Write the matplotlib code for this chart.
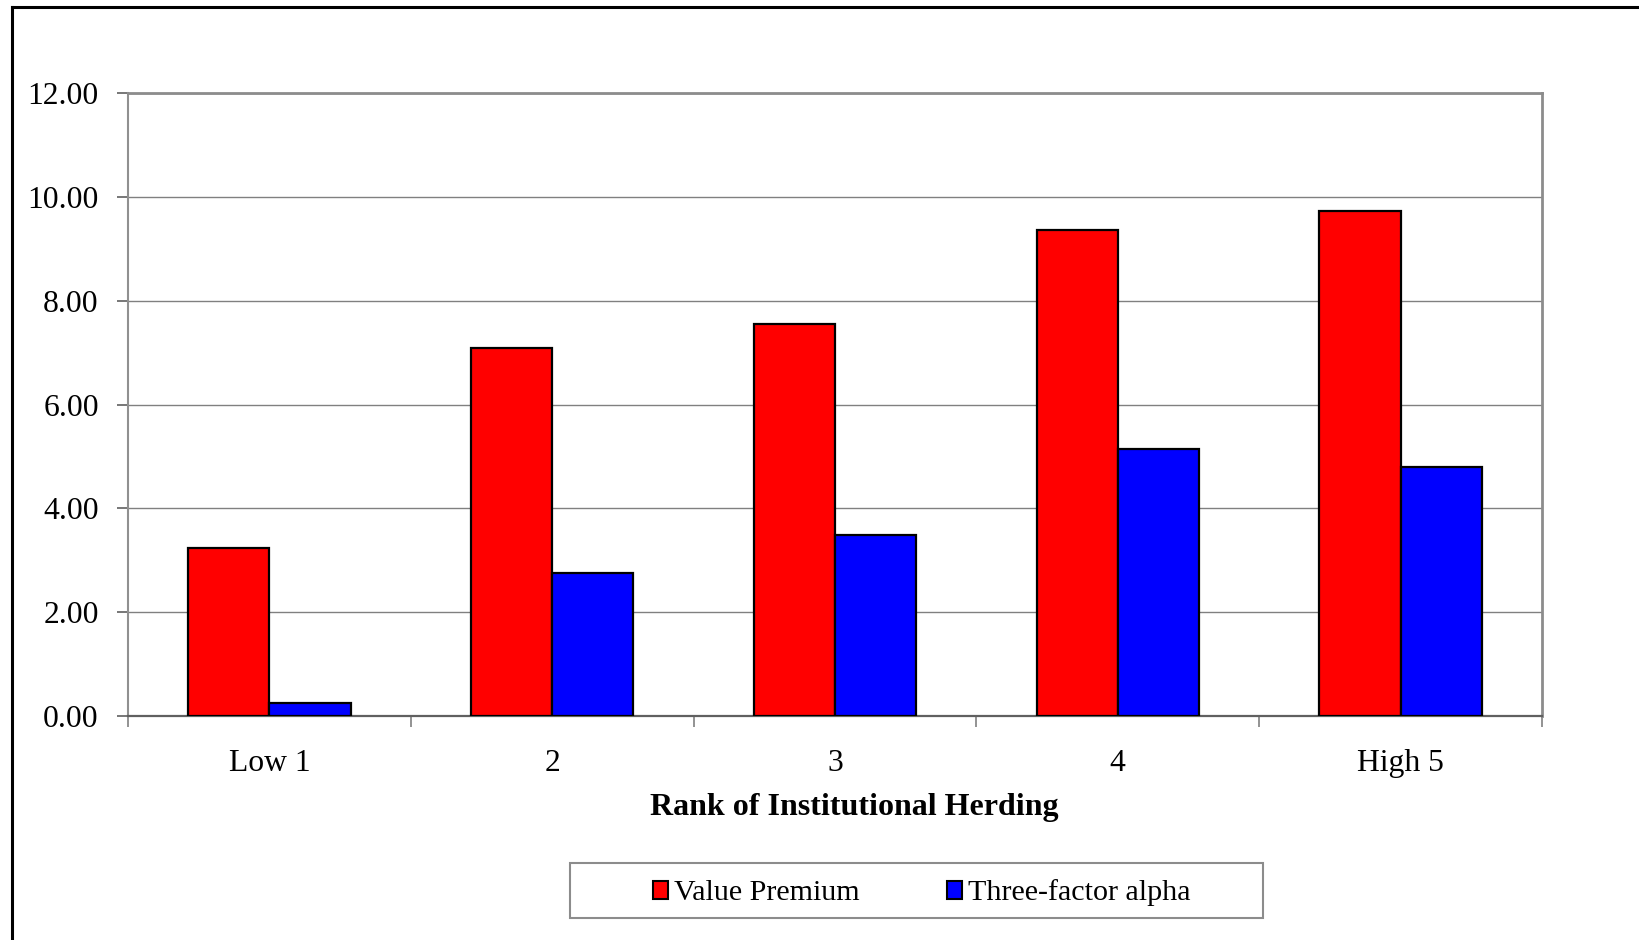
import numpy as np
import matplotlib.pyplot as plt
from matplotlib.lines import Line2D
from matplotlib.patches import Rectangle, Patch

categories = ["Low 1", "2", "3", "4", "High 5"]
value_premium = [3.24, 7.09, 7.55, 9.36, 9.72]
three_factor_alpha = [0.25, 2.76, 3.48, 5.15, 4.80]
series_names = ["Value Premium", "Three-factor alpha"]
y_ticks = [0, 2, 4, 6, 8, 10, 12]

plt.rcParams["font.family"] = ["Liberation Serif", "DejaVu Serif"]
FS = 22.8

W, H = 1639, 940
fig = plt.figure(figsize=(W / 100, H / 100), dpi=100)
ax = fig.add_axes([128 / W, 1 - 716 / H, (1542 - 128) / W, (716 - 93) / H])

x = np.arange(len(categories))
bw = 0.287
ax.bar(x - bw / 2, value_premium, bw, color="#ff0000", edgecolor="black", linewidth=1.6, zorder=3)
ax.bar(x + bw / 2, three_factor_alpha, bw, color="#0000ff", edgecolor="black", linewidth=1.6, zorder=3)

ax.set_xlim(-0.5, len(categories) - 0.5)
ax.set_ylim(0, 12)
ax.set_yticks(y_ticks)
ax.set_yticklabels([f"{v:.2f}" for v in y_ticks], fontsize=FS)
ax.yaxis.grid(True, color="#808080", linewidth=1.0, zorder=0)

# category labels at centres, tick marks at the group boundaries
ax.set_xticks(x)
ax.set_xticklabels(categories, fontsize=FS)
ax.set_xticks(np.arange(len(categories) + 1) - 0.5, minor=True)
ax.tick_params(axis="x", which="major", length=0, pad=24)
ax.tick_params(axis="x", which="minor", length=8, width=1.2, color="#808080", direction="out")
ax.tick_params(axis="y", length=8, width=1.2, color="#606060", pad=13)

for side in ["top", "right"]:
    ax.spines[side].set_color("#8c8c8c")
    ax.spines[side].set_linewidth(2.0)
ax.spines["left"].set_color("#909090")
ax.spines["left"].set_linewidth(1.5)
ax.spines["bottom"].set_color("#606060")
ax.spines["bottom"].set_linewidth(1.6)

fig.text(854 / W, 1 - 807 / H, "Rank of Institutional Herding", fontsize=23,
         fontweight="bold", ha="center", va="center")

# legend box
fig.patches.append(Rectangle((570 / W, 1 - 918 / H), (1263 - 570) / W, (918 - 863) / H,
                             transform=fig.transFigure, facecolor="white",
                             edgecolor="#8c8c8c", linewidth=1.5))
handles = [Patch(facecolor="#ff0000", edgecolor="black", linewidth=1.5),
           Patch(facecolor="#0000ff", edgecolor="black", linewidth=1.5)]
fig.legend(handles, series_names, loc="center", bbox_to_anchor=(922 / W, 1 - 893 / H),
           ncol=2, frameon=False, fontsize=21.6, handlelength=0.5, handleheight=0.55,
           handletextpad=0.2, columnspacing=2.9)

# outer frame (left and top edges)
fig.add_artist(Line2D([12 / W, 12 / W], [0, 1 - 7 / H], color="black", linewidth=2.2,
                      transform=fig.transFigure))
fig.add_artist(Line2D([12 / W, 1], [1 - 7 / H, 1 - 7 / H], color="black", linewidth=2.2,
                      transform=fig.transFigure))

fig.savefig("out.png", dpi=100)
